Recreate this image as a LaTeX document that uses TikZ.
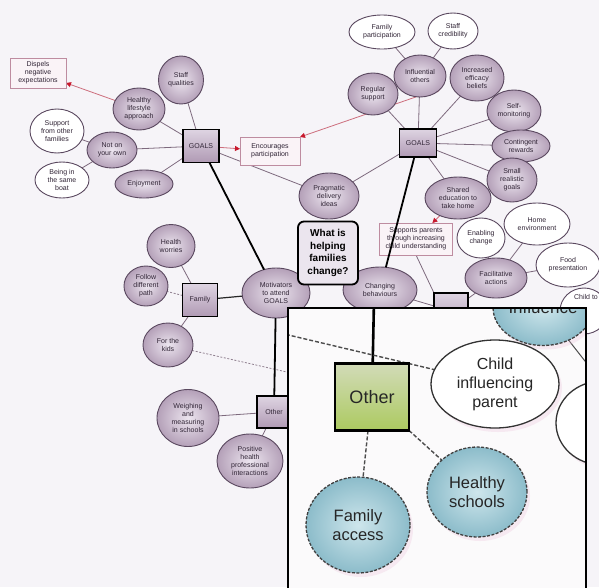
\documentclass[tikz,border=0pt]{standalone}
\usepackage{fontspec}
\setmainfont{Liberation Sans}
\usetikzlibrary{shapes.geometric,arrows.meta,shadows}

\definecolor{paper}{RGB}{246,244,248}
\definecolor{insetwhite}{RGB}{251,250,251}
\definecolor{ink}{RGB}{50,38,55}
\definecolor{edge}{RGB}{125,105,125}
\definecolor{rim}{RGB}{90,72,95}
\definecolor{mauveIn}{RGB}{236,229,239}
\definecolor{mauveOut}{RGB}{180,160,184}
\definecolor{hubTop}{RGB}{222,212,226}
\definecolor{hubBot}{RGB}{176,154,180}
\definecolor{tagred}{RGB}{200,25,45}
\definecolor{tagline}{RGB}{205,110,125}
\definecolor{tagrim}{RGB}{190,140,160}
\definecolor{tagfill}{RGB}{250,243,247}
\definecolor{blueIn}{RGB}{206,230,236}
\definecolor{blueOut}{RGB}{140,188,202}
\definecolor{greenTop}{RGB}{210,219,184}
\definecolor{greenBot}{RGB}{172,202,96}
\definecolor{glowpink}{RGB}{235,195,218}

\pgfdeclarelayer{paperlayer}
\pgfdeclarelayer{edges}
\pgfdeclarelayer{insetbg}
\pgfdeclarelayer{insetedges}
\pgfdeclarelayer{insetfg}
\pgfsetlayers{paperlayer,edges,main,insetbg,insetedges,insetfg}

\tikzset{
  every node/.style={font=\fontsize{7}{8}\selectfont, text=ink, align=center,
    inner sep=0pt, outer sep=0pt},
  sz/.style 2 args={minimum width=#1pt, minimum height=#2pt},
  idea/.style={ellipse, draw=rim, line width=0.9pt, inner color=mauveIn, outer color=mauveOut},
  plain/.style={ellipse, draw=rim, line width=0.9pt, fill=white},
  hub/.style={rectangle, draw=black, line width=1.5pt, top color=hubTop, bottom color=hubBot},
  tag/.style={rectangle, draw=tagrim, line width=0.9pt, fill=tagfill},
  question/.style={rectangle, rounded corners=6pt, draw=black, line width=1.8pt,
    fill=hubTop!60!white, font=\bfseries\fontsize{10}{12.5}\selectfont, text=black},
  link/.style={draw=edge, line width=0.8pt},
  dotlink/.style={draw=edge!85, line width=0.8pt, dash pattern=on 2pt off 1.6pt},
  spine/.style={draw=black, line width=1.8pt},
  redlink/.style={draw=tagline, line width=0.8pt, -{Triangle[length=5pt,width=5pt,color=tagred]}},
  redboth/.style={draw=tagline, line width=0.8pt,
    {Triangle[length=5pt,width=5pt,color=tagred]}-{Triangle[length=5pt,width=5pt,color=tagred]}},
  glow/.style={drop shadow={fill=glowpink, opacity=0.3, shadow xshift=3pt, shadow yshift=-4pt}},
  bigbox/.style={rectangle, draw=black, line width=2.4pt, top color=greenTop, bottom color=greenBot,
    font=\fontsize{18}{21}\selectfont, text=black!85},
  bigplain/.style={ellipse, draw=black!80, line width=1.3pt, fill=white, glow,
    font=\fontsize{16}{19}\selectfont, text=black!85},
  bigblue/.style={ellipse, draw=black!75, line width=1.3pt, dash pattern=on 3pt off 1.5pt,
    inner color=blueIn, outer color=blueOut, glow, font=\fontsize{16.5}{19}\selectfont, text=black!85},
  bigdash/.style={draw=black!70, line width=1.4pt, dash pattern=on 4pt off 2pt},
  bigspine/.style={draw=black, line width=2.6pt},
  frame/.style={draw=black, line width=1.5pt}
}

\begin{document}
\begin{tikzpicture}[x=1pt,y=-1pt]
\begin{pgfonlayer}{paperlayer}
  \fill[paper] (0,0) rectangle (599,587);
\end{pgfonlayer}
\useasboundingbox (0,0) rectangle (599,587);

% ---- left GOALS cluster
\node[tag, sz={56}{30}] (dispels) at (38,73) {Dispels\\negative\\expectations};
\node[idea, sz={45}{48}] (staffq) at (181,80) {Staff\\qualities};
\node[idea, sz={52}{42}] (healthy) at (139,109) {Healthy\\lifestyle\\approach};
\node[plain, sz={54}{44}] (support) at (57,131) {Support\\from other\\families};
\node[idea, sz={50}{36}] (noto) at (112,150) {Not on\\your own};
\node[plain, sz={54}{36}] (boat) at (62,180) {Being in\\the same\\boat};
\node[idea, sz={58}{28}] (enjoy) at (144,184) {Enjoyment};
\node[hub, sz={36}{33}] (gL) at (201,146) {GOALS};
\node[tag, sz={60}{28}] (encourage) at (270,151) {Encourages\\participation};

% ---- right GOALS cluster
\node[plain, sz={66}{34}] (famp) at (382,32) {Family\\participation};
\node[plain, sz={50}{36}] (staffc) at (453,31) {Staff\\credibility};
\node[idea, sz={52}{42}] (influ) at (420,76) {Influential\\others};
\node[idea, sz={54}{46}] (effic) at (477,78) {Increased\\efficacy\\beliefs};
\node[idea, sz={50}{42}] (regular) at (373,94) {Regular\\support};
\node[idea, sz={54}{42}] (selfm) at (514,111) {Self-\\monitoring};
\node[idea, sz={58}{32}] (conting) at (521,146) {Contingent\\rewards};
\node[idea, sz={50}{44}] (small) at (512,180) {Small\\realistic\\goals};
\node[idea, sz={66}{42}] (shared) at (458,198) {Shared\\education to\\take home};
\node[hub, sz={37}{28}] (gR) at (418,143) {GOALS};
\node[idea, sz={60}{46}] (pragmatic) at (329,196) {Pragmatic\\delivery\\ideas};

% ---- centre and right-hand actions
\node[idea, sz={68}{50}] (motiv) at (276,293) {Motivators\\to attend\\GOALS};
\node[idea, sz={74}{46}] (changing) at (380,290) {Changing\\behaviours};
\node[question, sz={60}{63}] (whatis) at (328,253) {What is\\helping\\families\\change?};
\node[tag, sz={73}{32}] (supports) at (416,239) {Supports parents\\through increasing\\child understanding};
\node[plain, sz={48}{40}] (enabling) at (481,238) {Enabling\\change};
\node[plain, sz={66}{42}] (homeenv) at (537,224) {Home\\environment};
\node[plain, sz={64}{44}] (food) at (568,265) {Food\\presentation};
\node[idea, sz={62}{40}] (facil) at (496,278) {Facilitative\\actions};
\node[plain, sz={48}{46}] (childto) at (584,311) {};
\node (childtolbl) at (586,297) {Child to};
\node[hub, sz={34}{36}] (otherR) at (451,311) {};

% ---- family and other motivators
\node[idea, sz={48}{43}] (healthw) at (171,246) {Health\\worries};
\node[idea, sz={44}{40}] (follow) at (146,286) {Follow\\different\\path};
\node[hub, sz={35}{33}] (family) at (200,300) {Family};
\node[idea, sz={50}{44}] (kids) at (168,345) {For the\\kids};
\node[hub, sz={34}{32}] (otherL) at (274,412) {Other};
\node[idea, sz={62}{57}] (weigh) at (188,418) {Weighing\\and\\measuring\\in schools};
\node[idea, sz={66}{54}] (positive) at (250,461) {Positive\\health\\professional\\interactions};
\coordinate (kidsend) at (300,375);

% ---- connectors
\begin{pgfonlayer}{edges}
  \draw[link] (gL) -- (staffq);
  \draw[link] (gL) -- (healthy);
  \draw[link] (gL) -- (noto);
  \draw[link] (gL) -- (enjoy);
  \draw[link] (noto) -- (support);
  \draw[link] (noto) -- (boat);
  \draw[link] (gL) -- (pragmatic);
  \draw[link] (gR) -- (pragmatic);
  \draw[link] (gR) -- (regular);
  \draw[link] (gR) -- (influ);
  \draw[link] (gR) -- (effic);
  \draw[link] (gR) -- (selfm);
  \draw[link] (gR) -- (conting);
  \draw[link] (gR) -- (small);
  \draw[link] (gR) -- (shared);
  \draw[link] (influ) -- (famp);
  \draw[link] (influ) -- (staffc);
  \draw[link] (supports.south) -- (otherR.north west);
  \draw[link] (changing) -- (otherR);
  \draw[link] (otherR) -- (facil);
  \draw[link] (facil) -- (enabling);
  \draw[link] (facil) -- (homeenv);
  \draw[link] (facil) -- (food);
  \draw[link] (family) -- (healthw);
  \draw[dotlink] (family) -- (follow);
  \draw[link] (family) -- (kids);
  \draw[dotlink] (kids) -- (kidsend);
  \draw[draw=black!85, line width=1.2pt] (family) -- (motiv);
  \draw[link] (otherL) -- (weigh);
  \draw[link] (otherL) -- (positive);
  \draw[redlink] (healthy) -- (dispels);
  \draw[redlink] (gL) -- (encourage);
  \draw[redboth] (encourage.north east) -- (influ.-30);
  \draw[redlink] (shared) -- (supports);
\end{pgfonlayer}

% ---- main spines
\draw[spine] (gL) -- (motiv);
\draw[spine] (gR) -- (changing);
\draw[spine] (motiv) -- (otherL);

% ---- magnified detail panel
\begin{pgfonlayer}{insetbg}
  \fill[insetwhite] (288,308) rectangle (586,600);
\end{pgfonlayer}

\begin{pgfonlayer}{insetfg}
  \begin{scope}
    \clip (288,308) rectangle (586,600);
    \node[bigblue, sz={100}{76}, font=\fontsize{17}{20}\selectfont] (influence) at (543,307.5) {Influence};
    \node[bigplain, sz={92}{84}] (rightpart) at (602,423) {};
    \node[bigbox, sz={74}{67}] (otherbig) at (372,397) {Other};
    \node[bigplain, sz={128}{88}] (childinf) at (495,384) {Child\\influencing\\parent};
    \node[bigblue, sz={100}{90}] (hschools) at (477,492) {Healthy\\schools};
    \node[bigblue, sz={104}{96}] (famacc) at (358,525) {Family\\access};
  \end{scope}
  \draw[frame] (288,308) rectangle (586,600);
\end{pgfonlayer}

\coordinate (spinetop) at (374,300);
\coordinate (dashin) at (280,333);
\coordinate (offright) at (592,370);
\begin{pgfonlayer}{insetedges}
  \begin{scope}
    \clip (288,308) rectangle (586,600);
    \draw[bigspine] (spinetop) -- (otherbig);
    \draw[bigdash] (dashin) -- (childinf);
    \draw[bigdash] (otherbig.south) ++(-4,0) coordinate (obs) (obs) -- (famacc);
    \draw[bigdash] (otherbig) -- (hschools);
    \draw[draw=black!70, line width=1pt] (influence) -- (offright);
  \end{scope}
\end{pgfonlayer}
\end{tikzpicture}
\end{document}
